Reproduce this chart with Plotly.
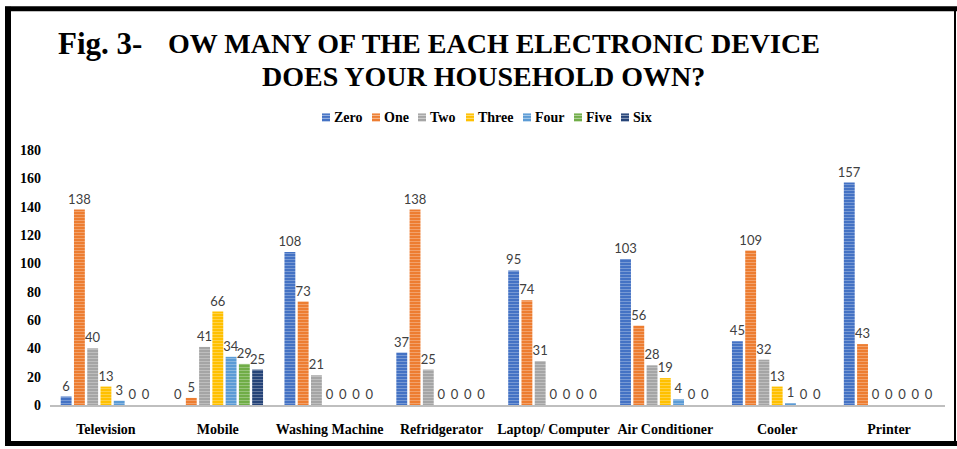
import plotly.graph_objects as go

categories = ["Television", "Mobile", "Washing Machine", "Refridgerator",
              "Laptop/ Computer", "Air Conditioner", "Cooler", "Printer"]
series_names = ["Zero", "One", "Two", "Three", "Four", "Five", "Six"]
zero = [6, 0, 108, 37, 95, 103, 45, 157]
one = [138, 5, 73, 138, 74, 56, 109, 43]
two = [40, 41, 21, 25, 31, 28, 32, 0]
three = [13, 66, 0, 0, 0, 19, 13, 0]
four = [3, 34, 0, 0, 0, 4, 1, 0]
five = [0, 29, 0, 0, 0, 0, 0, 0]
six = [0, 25, 0, 0, 0, 0, 0, 0]
series_values = [zero, one, two, three, four, five, six]
colors = ["#4472C4", "#ED7D31", "#A5A5A5", "#FFC000", "#5B9BD5", "#70AD47", "#264478"]
y_ticks = list(range(0, 181, 20))

W, H = 957, 449
L, R, T, B = 50, 12, 150, 41
pw, ph = W - L - R, H - T - B


def px(x):
    return (x - L) / pw


def py(y):
    return (H - B - y) / ph


serif = "Liberation Serif"
label_font = dict(family="Lato", size=13, color="#404040")

fig = go.Figure()
for name, vals, c in zip(series_names, series_values, colors):
    fig.add_trace(go.Bar(
        name=name, x=categories, y=vals, showlegend=False,
        marker=dict(color=c, line=dict(width=0),
                    pattern=dict(shape="-", fgcolor="rgba(255,255,255,0.55)",
                                 bgcolor=c, size=3, solidity=0.35)),
        text=[str(v) for v in vals], textposition="outside",
        textfont=label_font, outsidetextfont=label_font,
        cliponaxis=False,
    ))

fig.update_layout(
    width=W, height=H,
    margin=dict(l=L, r=R, t=T, b=B),
    paper_bgcolor="white", plot_bgcolor="white",
    barmode="group", bargap=0.17, bargroupgap=0.18,
    showlegend=False,
    uniformtext=dict(minsize=13, mode="show"),
)
fig.update_xaxes(showgrid=False, showline=True, linecolor="#BFBFBF", linewidth=2,
                 ticks="", ticklabelstandoff=10,
                 tickfont=dict(family=serif, size=14, color="#000000", weight="bold"))
fig.update_yaxes(range=[0, 180], tickvals=y_ticks, showgrid=False, zeroline=False,
                 showline=False, ticks="", ticklabelstandoff=8,
                 tickfont=dict(family=serif, size=14, color="#000000", weight="bold"))

# legend drawn manually (compact Excel style)
legend_x = [322, 372, 418, 466, 523, 574, 621]
legend_y = 117
for name, c, lx in zip(series_names, colors, legend_x):
    fig.add_shape(type="rect", xref="paper", yref="paper",
                  x0=px(lx), x1=px(lx + 8), y0=py(legend_y - 4), y1=py(legend_y + 4),
                  fillcolor=c, line=dict(width=0))
    for k in (-2, 1):
        fig.add_shape(type="line", xref="paper", yref="paper",
                      x0=px(lx), x1=px(lx + 8), y0=py(legend_y + k), y1=py(legend_y + k),
                      line=dict(color="rgba(255,255,255,0.5)", width=1))
    fig.add_annotation(xref="paper", yref="paper", x=px(lx + 10), y=py(legend_y),
                       xanchor="left", yanchor="middle", text=name, showarrow=False,
                       font=dict(family=serif, size=14, color="#000000", weight="bold"))

fig.add_annotation(xref="paper", yref="paper", x=px(56), y=py(42), xanchor="left", yanchor="middle",
                   text="Fig. 3-", showarrow=False,
                   font=dict(family=serif, size=31, color="#000000", weight="bold"))
fig.add_annotation(xref="paper", yref="paper", x=px(494), y=py(42), xanchor="center", yanchor="middle",
                   text="OW MANY OF THE EACH ELECTRONIC DEVICE", showarrow=False,
                   font=dict(family=serif, size=28, color="#000000", weight="bold"))
fig.add_annotation(xref="paper", yref="paper", x=px(483), y=py(76), xanchor="center", yanchor="middle",
                   text="DOES YOUR HOUSEHOLD OWN?", showarrow=False,
                   font=dict(family=serif, size=28, color="#000000", weight="bold"))

# frame around the figure
fig.add_shape(type="line", xref="paper", yref="paper", x0=px(5), x1=px(957), y0=py(7), y1=py(7),
              line=dict(color="black", width=5))
fig.add_shape(type="line", xref="paper", yref="paper", x0=px(8), x1=px(8), y0=py(5), y1=py(449),
              line=dict(color="black", width=6))
fig.add_shape(type="line", xref="paper", yref="paper", x0=px(5), x1=px(957), y0=py(447), y1=py(447),
              line=dict(color="black", width=5))
fig.add_shape(type="line", xref="paper", yref="paper", x0=px(955), x1=px(955), y0=py(7), y1=py(447),
              line=dict(color="black", width=2))

fig.write_html("out.html")
